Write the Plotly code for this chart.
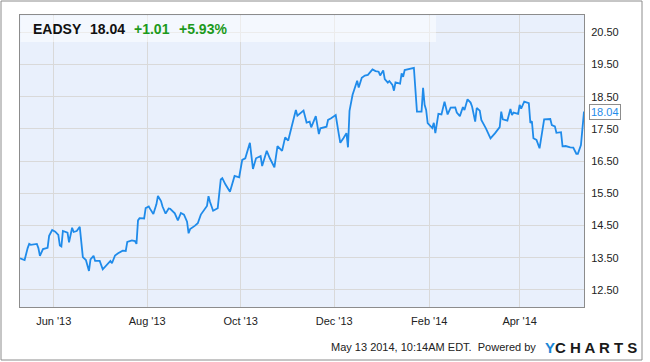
import plotly.graph_objects as go

dates = [
    "2013-05-10", "2013-05-13", "2013-05-15", "2013-05-16", "2013-05-17", "2013-05-21", "2013-05-22",
    "2013-05-23", "2013-05-25", "2013-05-28", "2013-05-29", "2013-05-31", "2013-06-02", "2013-06-04",
    "2013-06-05", "2013-06-06", "2013-06-07", "2013-06-10", "2013-06-11", "2013-06-13", "2013-06-14",
    "2013-06-16", "2013-06-18", "2013-06-20", "2013-06-22", "2013-06-24", "2013-06-25", "2013-06-27",
    "2013-06-28", "2013-07-01", "2013-07-03", "2013-07-06", "2013-07-08", "2013-07-09", "2013-07-11",
    "2013-07-13", "2013-07-16", "2013-07-18", "2013-07-19", "2013-07-22", "2013-07-24", "2013-07-25",
    "2013-07-26", "2013-07-27", "2013-07-30", "2013-07-31", "2013-08-02", "2013-08-03", "2013-08-05",
    "2013-08-07", "2013-08-08", "2013-08-10", "2013-08-11", "2013-08-13", "2013-08-15", "2013-08-16",
    "2013-08-19", "2013-08-21", "2013-08-23", "2013-08-25", "2013-08-27", "2013-08-28", "2013-08-29",
    "2013-09-01", "2013-09-03", "2013-09-05", "2013-09-08", "2013-09-09", "2013-09-10", "2013-09-11",
    "2013-09-13", "2013-09-16", "2013-09-18", "2013-09-19", "2013-09-21", "2013-09-24", "2013-09-27",
    "2013-09-30", "2013-10-02", "2013-10-04", "2013-10-07", "2013-10-09", "2013-10-11", "2013-10-14",
    "2013-10-15", "2013-10-18", "2013-10-20", "2013-10-23", "2013-10-25", "2013-10-28", "2013-10-30",
    "2013-11-01", "2013-11-03", "2013-11-06", "2013-11-07", "2013-11-11", "2013-11-13", "2013-11-15",
    "2013-11-16", "2013-11-19", "2013-11-21", "2013-11-22", "2013-11-26", "2013-11-27", "2013-11-29",
    "2013-12-02", "2013-12-04", "2013-12-05", "2013-12-07", "2013-12-09", "2013-12-10", "2013-12-11",
    "2013-12-13", "2013-12-16", "2013-12-17", "2013-12-19", "2013-12-21", "2013-12-23", "2013-12-26",
    "2013-12-28", "2013-12-30", "2013-12-31", "2014-01-02", "2014-01-03", "2014-01-05", "2014-01-06",
    "2014-01-08", "2014-01-09", "2014-01-10", "2014-01-13", "2014-01-14", "2014-01-15", "2014-01-16",
    "2014-01-19", "2014-01-22", "2014-01-24", "2014-01-27", "2014-01-28", "2014-01-29", "2014-01-30",
    "2014-01-31", "2014-02-03", "2014-02-04", "2014-02-05", "2014-02-07", "2014-02-09", "2014-02-11",
    "2014-02-13", "2014-02-15", "2014-02-18", "2014-02-19", "2014-02-21", "2014-02-23", "2014-02-24",
    "2014-02-26", "2014-02-28", "2014-03-01", "2014-03-03", "2014-03-04", "2014-03-06", "2014-03-07",
    "2014-03-10", "2014-03-11", "2014-03-13", "2014-03-16", "2014-03-19", "2014-03-20", "2014-03-21",
    "2014-03-24", "2014-03-26", "2014-03-27", "2014-03-28", "2014-03-31", "2014-04-01", "2014-04-02",
    "2014-04-04", "2014-04-07", "2014-04-08", "2014-04-09", "2014-04-10", "2014-04-12", "2014-04-14",
    "2014-04-17", "2014-04-21", "2014-04-22", "2014-04-24", "2014-04-25", "2014-04-28", "2014-04-29",
    "2014-05-01", "2014-05-04", "2014-05-06", "2014-05-08", "2014-05-09", "2014-05-11", "2014-05-13",
]

prices = [
    13.48, 13.43, 13.80, 13.93, 13.90, 13.93, 13.80,
    13.56, 13.77, 13.81, 14.18, 14.36, 14.31, 14.21,
    13.88, 13.85, 14.33, 14.28, 13.98, 14.43, 14.30,
    14.33, 14.46, 13.52, 13.43, 13.09, 13.45, 13.56,
    13.40, 13.40, 13.14, 13.31, 13.40, 13.33, 13.57,
    13.64, 13.72, 13.71, 13.99, 14.04, 14.02, 13.93,
    14.66, 14.73, 14.72, 15.04, 15.09, 15.01, 14.86,
    15.16, 15.42, 15.26, 15.09, 14.87, 15.03, 15.02,
    14.88, 14.66, 14.89, 14.84, 14.62, 14.26, 14.39,
    14.49, 14.57, 14.84, 15.05, 15.11, 15.41, 15.23,
    14.96, 15.04, 15.93, 15.97, 15.78, 15.55, 16.04,
    16.00, 16.54, 16.59, 17.07, 16.26, 16.59, 16.66,
    16.35, 16.82, 16.59, 16.31, 16.97, 16.82, 17.24,
    17.14, 17.52, 18.09, 17.91, 18.07, 17.70, 17.73,
    17.55, 17.90, 17.34, 17.52, 17.57, 17.78, 17.83,
    17.93, 17.34, 17.07, 17.21, 17.37, 16.93, 18.06,
    18.56, 19.00, 18.79, 19.09, 19.16, 19.18, 19.35,
    19.30, 19.28, 19.16, 19.32, 19.05, 18.94, 18.99,
    18.87, 18.69, 18.95, 18.91, 19.23, 19.12, 19.33,
    19.36, 19.40, 18.04, 18.04, 18.78, 18.25, 18.09,
    17.68, 17.53, 17.69, 17.37, 17.97, 17.95, 18.35,
    17.95, 18.16, 18.17, 18.01, 17.90, 18.18, 18.09,
    18.42, 18.32, 18.19, 17.73, 18.15, 18.07, 17.78,
    17.52, 17.42, 17.21, 17.37, 17.56, 18.04, 17.80,
    17.76, 18.12, 17.93, 18.01, 17.97, 18.25, 18.13,
    18.35, 18.30, 17.69, 17.74, 17.21, 17.16, 16.90,
    17.80, 17.81, 17.62, 17.58, 17.38, 17.40, 16.96,
    16.97, 16.93, 16.92, 16.73, 16.73, 17.00, 18.04,
]

x_tick_vals = ["2013-06-01", "2013-08-01", "2013-10-01", "2013-12-01", "2014-02-01", "2014-04-01"]
x_tick_text = ["Jun '13", "Aug '13", "Oct '13", "Dec '13", "Feb '14", "Apr '14"]
y_tick_vals = [12.5, 13.5, 14.5, 15.5, 16.5, 17.5, 18.5, 19.5, 20.5]

ticker = "EADSY"
last_price = "18.04"
change = "+1.01"
change_pct = "+5.93%"
stamp = "May 13 2014, 10:14AM EDT.  Powered by"

FONT = "Liberation Sans, Arial, sans-serif"
LINE = "#1f8bea"
GREEN = "#1c9a1c"
GRID = "#d9d9d9"
FRAME = "#8c8c8c"

W, H = 650, 362
L, R, T, B = 20, 66, 15, 55
PW, PH = W - L - R, H - T - B


def px(x):
    return (x - L) / PW


def py(y):
    return (H - B - y) / PH


fig = go.Figure()
fig.add_trace(go.Scatter(x=dates, y=prices, mode="lines",
                         line=dict(color=LINE, width=1.8), hoverinfo="skip"))

fig.update_layout(
    width=W, height=H,
    margin=dict(l=L, r=R, t=T, b=B),
    paper_bgcolor="white",
    plot_bgcolor="#e9f0fc",
    showlegend=False,
    font=dict(family=FONT, size=11, color="#333333"),
    xaxis=dict(
        type="date",
        range=["2013-05-10", "2014-05-13"],
        tickvals=x_tick_vals, ticktext=x_tick_text,
        showgrid=True, gridcolor=GRID, gridwidth=1,
        showline=True, linecolor=FRAME, linewidth=1, mirror=True,
        ticks="", zeroline=False,
        tickfont=dict(family=FONT, size=11, color="#222222"),
        ticklabelstandoff=4,
    ),
    yaxis=dict(
        side="right",
        range=[11.97, 21.04],
        tickvals=y_tick_vals, tickformat=".2f",
        showgrid=True, gridcolor=GRID, gridwidth=1,
        showline=True, linecolor=FRAME, linewidth=1, mirror=True,
        ticks="", zeroline=False,
        tickfont=dict(family=FONT, size=11, color="#222222"),
        ticklabelstandoff=4,
    ),
)

# header band (semi-transparent, lies above the faded gridlines)
fig.add_shape(type="rect", xref="paper", yref="paper",
              x0=px(20.5), x1=px(436), y0=py(42), y1=py(15.5),
              fillcolor="rgba(255,255,255,0.5)", line=dict(width=0), layer="above")

# outer frame
fig.add_shape(type="rect", xref="paper", yref="paper",
              x0=px(1), x1=px(642), y0=py(360), y1=py(1),
              line=dict(color=FRAME, width=1), fillcolor="rgba(0,0,0,0)", layer="above")

hdr_y = py(29)
for txt, xl, col in [(ticker, 30.5, "#111111"), (last_price, 88, "#111111"),
                     (change, 132, GREEN), (change_pct, 177, GREEN)]:
    fig.add_annotation(xref="paper", yref="paper", x=px(xl), y=hdr_y,
                       xanchor="left", yanchor="middle", showarrow=False,
                       text="<b>" + txt + "</b>",
                       font=dict(family=FONT, size=14, color=col))

# last value tag
fig.add_annotation(x=dates[-1], y=prices[-1], xref="x", yref="y",
                   xanchor="left", yanchor="middle", xshift=5, showarrow=False,
                   text=f"{prices[-1]:.2f}", font=dict(family=FONT, size=11, color=LINE),
                   bgcolor="white", bordercolor="#8c8c8c", borderwidth=1, borderpad=1)

# footer
fig.add_annotation(xref="paper", yref="paper", x=px(537.5), y=py(347),
                   xanchor="right", yanchor="middle", showarrow=False,
                   text=stamp, font=dict(family=FONT, size=11, color="#222222"))
fig.add_annotation(xref="paper", yref="paper", x=px(543), y=py(347),
                   xanchor="left", yanchor="middle", showarrow=False,
                   text="<b><span style='color:#1b86d6'>Y</span>C H A R T S</b>",
                   font=dict(family=FONT, size=15, color="#1a1a1a"))

fig.write_html("out.html")
